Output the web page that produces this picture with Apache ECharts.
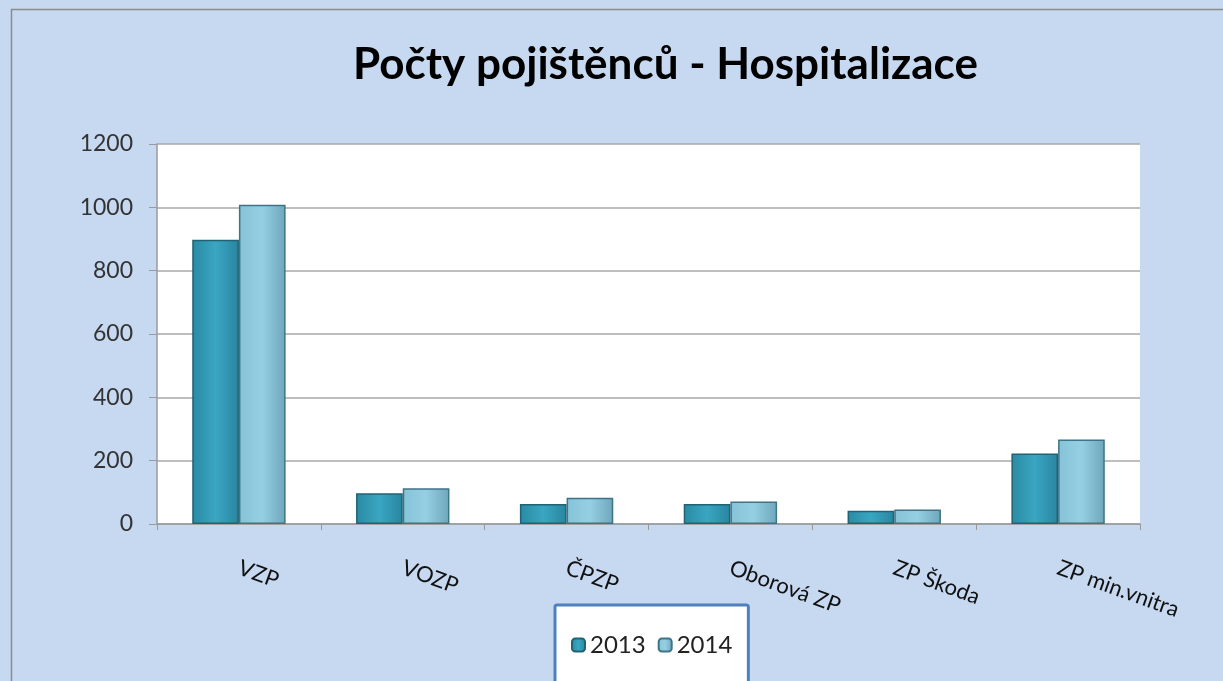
<!DOCTYPE html>
<html>
<head>
<meta charset="utf-8">
<script src="https://cdn.jsdelivr.net/npm/echarts@6/dist/echarts.min.js"></script>
<style>
  html, body { margin: 0; padding: 0; background: #c6d9f1; }
  #main { width: 1223px; height: 681px; }
</style>
</head>
<body>
<div id="main"></div>
<script>
var myChart = echarts.init(document.getElementById('main'));

// data
var categories = ['VZP', 'VOZP', 'ČPZP', 'Oborová ZP', 'ZP Škoda', 'ZP min.vnitra'];
var years = ['2013', '2014'];
var values2013 = [898, 97, 63, 63, 42, 223];
var values2014 = [1008, 113, 83, 71, 46, 267];

var font = 'Lato, "Open Sans", sans-serif';

// horizontal gradient to mimic the 3D bars
function barColor(c1, c2, c3) {
    return new echarts.graphic.LinearGradient(0, 0, 1, 0, [
        { offset: 0, color: c1 },
        { offset: 0.5, color: c2 },
        { offset: 1, color: c3 }
    ]);
}

var option = {
    backgroundColor: '#c6d9f1',
    textStyle: { fontFamily: font },
    title: {
        text: 'Počty pojištěnců - Hospitalizace',
        left: 348,
        top: 38,
        textStyle: {
            fontFamily: font,
            fontSize: 44,
            fontWeight: 'bold',
            color: '#000'
        }
    },
    legend: {
        data: years,
        left: 555,
        top: 605,
        width: 195,
        padding: [28, 16, 40, 16],
        backgroundColor: '#ffffff',
        borderColor: '#4f81bd',
        borderWidth: 3,
        borderRadius: 2,
        itemWidth: 13,
        itemHeight: 13,
        itemGap: 12,
        textStyle: { fontSize: 24, color: '#222', fontFamily: font }
    },
    grid: {
        left: 157,
        right: 83,
        top: 144,
        bottom: 157,
        show: true,
        backgroundColor: '#ffffff',
        borderWidth: 0
    },
    xAxis: {
        type: 'category',
        data: categories,
        axisLine: { lineStyle: { color: '#9a9a9a', width: 1.5 } },
        axisTick: { show: true, length: 6, lineStyle: { color: '#9a9a9a' } },
        axisLabel: {
            rotate: -20,
            margin: 43,
            fontSize: 22,
            color: '#111',
            fontFamily: font
        }
    },
    yAxis: {
        type: 'value',
        min: 0,
        max: 1200,
        interval: 200,
        axisLine: { show: true, lineStyle: { color: '#9a9a9a', width: 1.5 } },
        axisTick: { show: true, length: 8, lineStyle: { color: '#9a9a9a' } },
        splitLine: { lineStyle: { color: '#a8a8a8', width: 1.5 } },
        axisLabel: {
            fontSize: 23,
            color: '#333',
            margin: 24,
            fontFamily: font,
            formatter: function (v) { return String(v); }
        }
    },
    series: [
        {
            name: '2013',
            type: 'bar',
            data: values2013,
            barGap: '0%',
            barCategoryGap: '43%',
            itemStyle: {
                color: barColor('#2a8aa3', '#3aa6c2', '#2985a0'),
                borderColor: '#1f6375',
                borderWidth: 1.5
            }
        },
        {
            name: '2014',
            type: 'bar',
            data: values2014,
            itemStyle: {
                color: barColor('#86c3d8', '#95cfe3', '#6ea6bb'),
                borderColor: '#3f7386',
                borderWidth: 1.5
            }
        }
    ],
    graphic: [
        {
            type: 'rect',
            left: 9,
            top: 7,
            shape: { width: 1230, height: 700 },
            style: { fill: 'none', stroke: '#8c8c8c', lineWidth: 1.5 },
            silent: true
        }
    ]
};
myChart.setOption(option);
</script>
</body>
</html>
